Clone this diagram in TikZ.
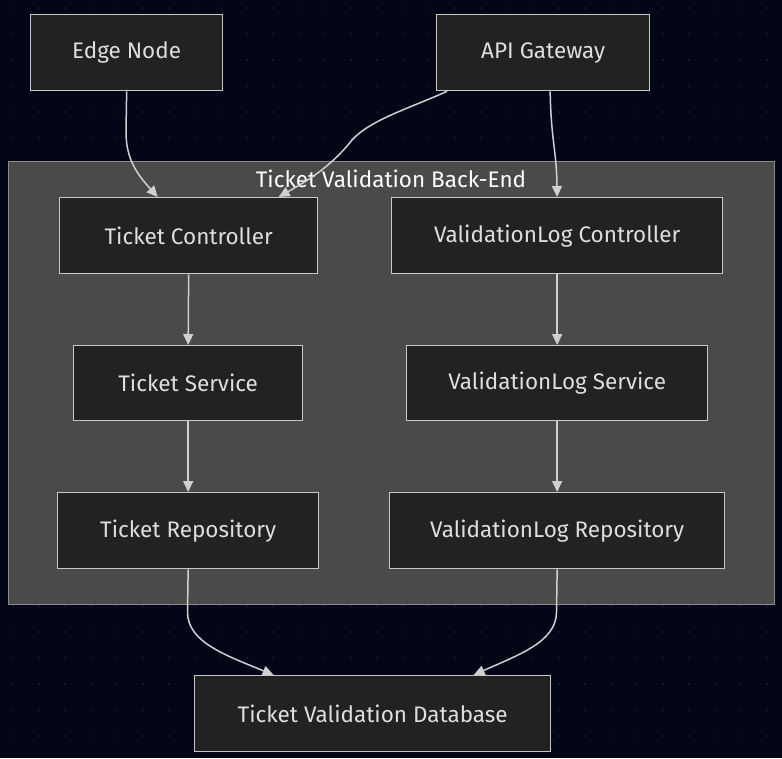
\documentclass[tikz,border=0pt]{standalone}
\usepackage{fontspec}
\setmainfont{Fira Sans}
\usetikzlibrary{arrows.meta}
\definecolor{bgc}{HTML}{020617}
\definecolor{dotc}{HTML}{1C2233}
\definecolor{clfill}{HTML}{4A4A4A}
\definecolor{cldraw}{HTML}{8C8C8C}
\definecolor{nfill}{HTML}{222222}
\definecolor{ndraw}{HTML}{C8C8C8}
\definecolor{ntext}{HTML}{DEDEDE}
\definecolor{lnc}{HTML}{D0D0D0}
\tikzset{
  box/.style={draw=ndraw, fill=nfill, line width=1.3pt, text=ntext, font=\fontsize{22.5}{26}\selectfont, inner sep=0pt, anchor=north west},
  arr/.style={draw=lnc, line width=1.5pt, -{Triangle[length=11pt,width=10pt]}},
}
\begin{document}
\begin{tikzpicture}[x=1pt,y=-1pt]
\fill[bgc] (0,0) rectangle (782,758);
\useasboundingbox (0,0) rectangle (782,758);
\foreach \i in {0,...,30}{\foreach \j in {0,...,29}{\fill[dotc] (13+26*\i,8+26*\j) circle (1.1pt);}}
% cluster
\node[draw=cldraw, fill=clfill, line width=1.3pt, minimum width=766pt, minimum height=443pt, inner sep=0pt, anchor=north west] (cl) at (8,161) {};
\node[text=white, font=\fontsize{22.5}{26}\selectfont] (cllab) at (391,179) {Ticket Validation Back-End};
% nodes
\node[box, minimum width=192pt, minimum height=76pt] (edge) at (30,14) {Edge Node};
\node[box, minimum width=213pt, minimum height=76pt] (api) at (436,14) {API Gateway};
\node[box, minimum width=258pt, minimum height=76pt] (tc) at (59,197) {Ticket Controller};
\node[box, minimum width=331pt, minimum height=76pt] (vc) at (391,197) {ValidationLog Controller};
\node[box, minimum width=229pt, minimum height=75pt] (ts) at (73,345) {Ticket Service};
\node[box, minimum width=301pt, minimum height=75pt] (vs) at (406,345) {ValidationLog Service};
\node[box, minimum width=261pt, minimum height=76pt] (tr) at (57,492) {Ticket Repository};
\node[box, minimum width=335pt, minimum height=76pt] (vr) at (389,492) {ValidationLog Repository};
\node[box, minimum width=356pt, minimum height=76pt] (db) at (194,675) {Ticket Validation Database};
% edges
\draw[arr] (edge.south) -- (126,132) .. controls (126,160) and (138,175) .. ([xshift=-31pt]tc.north);
\draw[arr] ([xshift=-96pt]api.south) .. controls (410,108) and (370,120) .. (352,140) .. controls (330,168) and (305,182) .. ([xshift=90pt]tc.north);
\draw[arr] ([xshift=7pt]api.south) .. controls (551,140) and (556.5,150) .. (vc.north);
\draw[arr] (tc.south) -- (ts.north);
\draw[arr] (ts.south) -- (tr.north);
\draw[arr] (vc.south) -- (vs.north);
\draw[arr] (vs.south) -- (vr.north);
\draw[arr] (tr.south) -- (187.5,612) .. controls (187.5,642) and (225,655) .. ([xshift=-99pt]db.north);
\draw[arr] (vr.south) -- (556.5,612) .. controls (556.5,642) and (518,655) .. ([xshift=101pt]db.north);
\end{tikzpicture}
\end{document}
